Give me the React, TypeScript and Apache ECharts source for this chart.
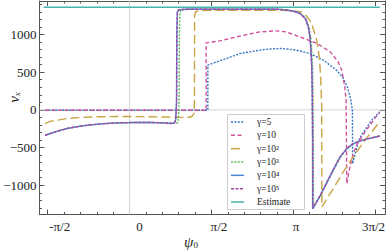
import React, { useEffect, useRef } from 'react';
import * as echarts from 'echarts';

const HALF_PI = Math.PI / 2;
const SERIF = "'Liberation Serif', 'Times New Roman', serif";

// tick labels
const xTickValues = [-1, 0, 1, 2, 3]; // in units of π/2
const xTickLabels = ['-π/2', '0', 'π/2', 'π', '3π/2'];
const yTickValues = [-1000, -500, 0, 500, 1000];

const seriesNames = ['γ=5', 'γ=10', 'γ=10²', 'γ=10³', 'γ=10⁴', 'γ=10⁵', 'Estimate'];

// [ψ0 (rad), v_x]
const gamma5: [number, number][] = [
  [-1.62, -6], [1.502, -6], [1.502, 593], [1.67, 637], [1.86, 681], [2.12, 748], [2.31, 769],
  [2.5, 792], [2.7, 808], [2.92, 814], [3.2, 792], [3.46, 748], [3.72, 659], [3.97, 526],
  [4.1, 420], [4.18, 300], [4.24, 150], [4.275, 0], [4.28, -713], [4.33, -580], [4.387, -425],
  [4.46, -325], [4.548, -235], [4.65, -135], [4.8, -25],
];
const gamma10: [number, number][] = [
  [-1.62, -6], [1.469, -6], [1.469, 889], [1.73, 915], [2.05, 968], [2.5, 1035], [2.82, 1048],
  [3.0, 1035], [3.27, 968], [3.6, 880], [3.85, 770], [4.0, 640], [4.07, 526], [4.13, 305],
  [4.155, 120], [4.168, -977], [4.228, -757], [4.291, -580], [4.387, -425], [4.548, -265],
  [4.707, -110], [4.8, -35],
];
const gamma1e2: [number, number][] = [
  [-1.62, -180], [-1.5, -150], [-1.2, -115], [-0.9, -100], [-0.6, -92], [-0.2, -88], [0.3, -90],
  [0.7, -95], [1.0, -100], [1.15, -98], [1.2, -85], [1.235, -50], [1.245, 100], [1.248, 1250],
  [1.27, 1305], [1.4, 1318], [2.0, 1322], [2.8, 1322], [3.1, 1315], [3.3, 1300], [3.4, 1240],
  [3.494, 1146], [3.59, 924], [3.64, 703], [3.667, 437], [3.686, 39], [3.69, -1288],
  [3.908, -1044], [4.1, -824], [4.29, -624], [4.515, -403], [4.8, -160],
];
const gamma1e3: [number, number][] = [
  [-1.62, -337], [-1.4, -285], [-1.2, -248], [-1.0, -222], [-0.8, -203], [-0.5, -183],
  [-0.2, -172], [0.1, -167], [0.4, -167], [0.65, -172], [0.8, -178], [0.91, -178], [0.935, -140],
  [0.95, 100], [0.956, 1000], [0.965, 1290], [0.99, 1328], [1.15, 1335], [2.8, 1335],
  [2.95, 1330], [3.1, 1315], [3.2, 1298], [3.28, 1278], [3.38, 1212], [3.44, 1101], [3.475, 968],
  [3.495, 792], [3.51, 570], [3.52, 250], [3.527, -400], [3.528, -1300], [3.67, -1128],
  [3.8, -952], [3.93, -776], [4.05, -622], [4.18, -512], [4.3, -447], [4.43, -412],
  [4.59, -381], [4.8, -348],
];
const gamma1e4: [number, number][] = [
  [-1.62, -337], [-1.4, -285], [-1.2, -248], [-1.0, -222], [-0.8, -203], [-0.5, -183],
  [-0.2, -172], [0.1, -167], [0.4, -167], [0.65, -172], [0.8, -180], [0.86, -174], [0.885, -130],
  [0.9, 100], [0.906, 1000], [0.915, 1290], [0.94, 1328], [1.1, 1335], [2.8, 1335],
  [2.95, 1330], [3.1, 1315], [3.2, 1298], [3.27, 1278], [3.37, 1212], [3.43, 1101], [3.46, 968],
  [3.48, 792], [3.495, 570], [3.505, 250], [3.512, -400], [3.513, -1309], [3.66, -1133],
  [3.79, -956], [3.92, -779], [4.04, -624], [4.17, -513], [4.29, -447], [4.42, -412],
  [4.58, -381], [4.8, -347],
];
const gamma1e5: [number, number][] = [
  [-1.62, -337], [-1.4, -285], [-1.2, -248], [-1.0, -222], [-0.8, -203], [-0.5, -183],
  [-0.2, -172], [0.1, -167], [0.4, -167], [0.65, -172], [0.8, -180], [0.86, -174], [0.888, -130],
  [0.903, 100], [0.909, 1000], [0.918, 1290], [0.943, 1328], [1.1, 1335], [2.8, 1335],
  [2.95, 1330], [3.1, 1315], [3.2, 1298], [3.27, 1278], [3.37, 1212], [3.43, 1101], [3.46, 968],
  [3.48, 792], [3.495, 570], [3.505, 250], [3.512, -400], [3.513, -1309], [3.66, -1133],
  [3.79, -956], [3.92, -779], [4.04, -624], [4.17, -513], [4.29, -447], [4.42, -412],
  [4.58, -381], [4.8, -347],
];
const estimate: [number, number][] = [[-1.65, 1362], [4.8, 1362]];

const X_MIN = -1.1; // units of π/2
const X_MAX = 3.12;
const Y_MIN = -1388;
const Y_MAX = 1444;

const FRAME = '#555555';

const colors = ['#3a76c4', '#d0529d', '#c8a544', '#5db85a', '#4a8ad4', '#a844a4', '#47b3ad'];
const dashes: (number[] | null)[] = [[2, 1.4], [4, 2.5], [9, 4], [2, 1.4], null, [3, 1.5], null];

// horizontal nudge (px) of each x tick label, as placed in the reference
const xLabelShift = [12, 10, 7.5, 2.7, -1.7];

export default function App() {
  const ref = useRef<HTMLDivElement>(null);

  useEffect(() => {
    if (!ref.current) return;
    const chart = echarts.init(ref.current, undefined, { renderer: 'svg' });

    const toU = (d: [number, number][]) => d.map(([p, v]) => [p / HALF_PI, v]);
    const allData = [gamma5, gamma10, gamma1e2, gamma1e3, gamma1e4, gamma1e5, estimate];

    const seriesList = allData.map((d, i) => ({
      type: 'line',
      name: seriesNames[i],
      data: toU(d),
      xAxisIndex: 0,
      yAxisIndex: 0,
      showSymbol: false,
      symbol: 'none',
      silent: true,
      clip: true,
      z: 2,
      itemStyle: { color: colors[i] },
      lineStyle: { color: colors[i], width: i === 6 ? 1.6 : 1.4, type: dashes[i] ?? 'solid' },
    }));

    const xRich: Record<string, any> = {};
    xTickLabels.forEach((_, i) => {
      const s = xLabelShift[i];
      xRich['t' + i] = {
        fontFamily: SERIF,
        fontSize: 13,
        color: '#222',
        padding: s >= 0 ? [0, 0, 0, 2 * s] : [0, -2 * s, 0, 0],
      };
    });
    const xLabel = (v: number) => {
      const i = xTickValues.findIndex((t) => Math.abs(t - v) < 1e-6);
      return i < 0 ? '' : `{t${i}|${xTickLabels[i]}}`;
    };
    const yLabel = (v: number) => {
      const i = yTickValues.indexOf(v);
      if (i < 0) return '';
      return v < 0 ? '\u2212' + Math.abs(v) : String(v);
    };

    const baseX = {
      type: 'value',
      min: X_MIN,
      max: X_MAX,
      splitLine: { show: false },
      axisLine: { show: true, onZero: false, lineStyle: { color: FRAME, width: 1 } },
    };
    const baseY = {
      type: 'value',
      min: Y_MIN,
      max: Y_MAX,
      splitLine: { show: false },
      axisLine: { show: true, onZero: false, lineStyle: { color: FRAME, width: 1 } },
    };

    // hand-drawn legend (box + line samples + labels)
    const LX = 227.5, LY = 114.5, LW = 77, LH = 95;
    const rowY = (i: number) => 122 + i * 13.33;
    const legendGraphics: any[] = [
      {
        type: 'rect',
        z: 10,
        silent: true,
        shape: { x: LX, y: LY, width: LW, height: LH },
        style: { fill: '#ffffff', stroke: '#cccccc', lineWidth: 1 },
      },
    ];
    seriesNames.forEach((name, i) => {
      legendGraphics.push({
        type: 'line',
        z: 11,
        silent: true,
        shape: { x1: 231, y1: rowY(i), x2: 244, y2: rowY(i) },
        style: { stroke: colors[i], lineWidth: 1.5, lineDash: dashes[i] ?? undefined },
      });
      legendGraphics.push({
        type: 'text',
        z: 11,
        silent: true,
        x: 257,
        y: rowY(i),
        style: {
          text: name,
          fontFamily: SERIF,
          fontSize: 9.5,
          fill: '#222',
          verticalAlign: 'middle',
          align: 'left',
        },
      });
    });

    chart.setOption({
      animation: false,
      backgroundColor: '#ffffff',
      grid: { left: 39.5, right: 5, top: 1, bottom: 35.5, containLabel: false },
      xAxis: [
        {
          ...baseX,
          position: 'bottom',
          splitNumber: 4,
          axisTick: { show: true, inside: true, length: 5, lineStyle: { color: FRAME } },
          axisLabel: {
            formatter: xLabel,
            margin: 5,
            fontFamily: SERIF,
            fontSize: 13,
            color: '#222',
            rich: xRich,
            showMinLabel: false,
            showMaxLabel: false,
          },
        },
        {
          ...baseX,
          position: 'top',
          splitNumber: 4,
          axisTick: { show: true, inside: true, length: 5, lineStyle: { color: FRAME } },
          axisLabel: { show: false },
        },
        {
          ...baseX,
          position: 'bottom',
          splitNumber: 21,
          axisLine: { show: false, onZero: false },
          axisTick: { show: true, inside: true, length: 2.5, lineStyle: { color: FRAME } },
          axisLabel: { show: false },
        },
        {
          ...baseX,
          position: 'top',
          splitNumber: 21,
          axisLine: { show: false, onZero: false },
          axisTick: { show: true, inside: true, length: 2.5, lineStyle: { color: FRAME } },
          axisLabel: { show: false },
        },
      ],
      yAxis: [
        {
          ...baseY,
          position: 'left',
          splitNumber: 5,
          axisTick: { show: true, inside: true, length: 5, lineStyle: { color: FRAME } },
          axisLabel: {
            formatter: yLabel,
            margin: 3,
            fontFamily: SERIF,
            fontSize: 13,
            color: '#222',
            showMinLabel: false,
            showMaxLabel: false,
          },
        },
        {
          ...baseY,
          position: 'right',
          splitNumber: 5,
          axisTick: { show: true, inside: true, length: 5, lineStyle: { color: FRAME } },
          axisLabel: { show: false },
        },
        {
          ...baseY,
          position: 'left',
          splitNumber: 28,
          axisLine: { show: false, onZero: false },
          axisTick: { show: true, inside: true, length: 2.5, lineStyle: { color: FRAME } },
          axisLabel: { show: false },
        },
        {
          ...baseY,
          position: 'right',
          splitNumber: 28,
          axisLine: { show: false, onZero: false },
          axisTick: { show: true, inside: true, length: 2.5, lineStyle: { color: FRAME } },
          axisLabel: { show: false },
        },
      ],
      graphic: [
        ...legendGraphics,
        {
          type: 'text',
          x: 14,
          y: 97.5,
          rotation: Math.PI / 2,
          silent: true,
          style: {
            text: '{i|v}{s|x}',
            align: 'center',
            verticalAlign: 'middle',
            fill: '#222',
            rich: {
              i: { fontFamily: SERIF, fontStyle: 'italic', fontSize: 15, fill: '#222' },
              s: { fontFamily: SERIF, fontStyle: 'italic', fontSize: 9, fill: '#222', verticalAlign: 'bottom' },
            },
          },
        },
        {
          type: 'text',
          x: 191,
          y: 241.5,
          silent: true,
          style: {
            text: '{i|ψ}{s|0}',
            align: 'center',
            verticalAlign: 'middle',
            fill: '#222',
            rich: {
              i: { fontFamily: SERIF, fontStyle: 'italic', fontSize: 15, fill: '#222' },
              s: { fontFamily: SERIF, fontSize: 9, fill: '#222', verticalAlign: 'bottom' },
            },
          },
        },
      ],
      series: [
        {
          type: 'line',
          name: 'zeroX',
          data: [[X_MIN, 0], [X_MAX, 0]],
          showSymbol: false,
          symbol: 'none',
          silent: true,
          z: 1,
          lineStyle: { color: '#d4d4d4', width: 1 },
        },
        {
          type: 'line',
          name: 'zeroY',
          data: [[0, Y_MIN], [0, Y_MAX]],
          showSymbol: false,
          symbol: 'none',
          silent: true,
          z: 1,
          lineStyle: { color: '#d4d4d4', width: 1 },
        },
        ...seriesList,
      ],
    });

    return () => chart.dispose();
  }, []);

  return (
    <div
      ref={ref}
      style={{ position: 'fixed', left: 0, top: 0, width: 390, height: 250 }}
    />
  );
}
